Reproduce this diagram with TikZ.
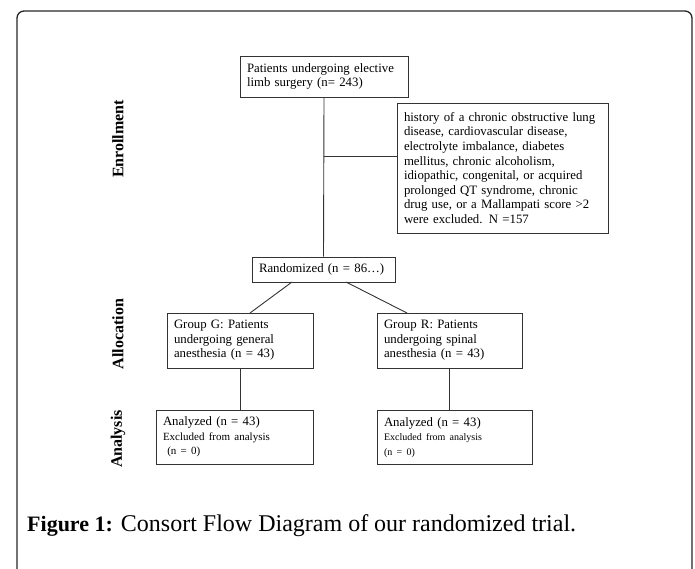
\documentclass[tikz,border=0pt]{standalone}
\usepackage{fontspec}
\setmainfont{Liberation Serif}
\begin{document}
\begin{tikzpicture}[x=1pt,y=-1pt,
  box/.style={draw=black!80, line width=0.9pt, align=left, inner xsep=7pt, inner ysep=2pt,
     font=\fontsize{12.8}{14.6}\selectfont},
  conn/.style={draw=black!80, line width=0.9pt},
  phase/.style={rotate=90, font=\fontsize{16}{18}\selectfont\bfseries}]
\useasboundingbox (0,0) rectangle (695,568);
\clip (0,0) rectangle (695,568);
\draw[line width=1.3pt, black!85, rounded corners=7pt] (17,580) -- (17,11) -- (692,11) -- (692,580);

\node[box, minimum width=168pt, minimum height=41pt, text width=154pt] (top) at (324,76.5)
  {Patients undergoing elective\\limb surgery (n= 243)};
\node[box, minimum width=211pt, minimum height=130pt, text width=197pt] (excl) at (502.5,168)
  {history of a chronic obstructive lung\\disease, cardiovascular disease,\\electrolyte imbalance, diabetes\\mellitus, chronic alcoholism,\\idiopathic, congenital, or acquired\\prolonged QT syndrome, chronic\\drug use, or a Mallampati score >2\\were excluded. N =157};
\node[box, minimum width=143pt, minimum height=25pt, text width=129pt] (rand) at (323.5,269.5)
  {Randomized (n = 86…)};
\node[box, minimum width=146pt, minimum height=55pt, text width=132pt] (gg) at (240,340.5)
  {Group G: Patients\\undergoing general\\anesthesia (n = 43)};
\node[box, minimum width=145pt, minimum height=55pt, text width=131pt] (gr) at (449.5,340.5)
  {Group R: Patients\\undergoing spinal\\anesthesia (n = 43)};
\node[box, minimum width=157pt, minimum height=54pt, text width=143pt] (ag) at (234.5,437)
  {Analyzed (n = 43)\\{\fontsize{11}{13}\selectfont Excluded from analysis}\\{\fontsize{11}{13}\selectfont\ (n = 0)}\\[3pt]};
\node[box, minimum width=155pt, minimum height=54pt, text width=141pt] (ar) at (454.5,437.5)
  {Analyzed (n = 43)\\{\fontsize{10}{12}\selectfont Excluded from analysis}\\{\fontsize{10}{12}\selectfont (n = 0)}\\[4pt]};

\coordinate (j) at (324,156);
\draw[conn] (top.south) -- (rand.north);
\draw[conn] (j) -- (j -| excl.west);
\draw[conn] (292,282) coordinate (r1) -- (250,313) coordinate (g1);
\draw[conn] (346,282) coordinate (r2) -- (407,313) coordinate (g2);
\draw[conn] (gg.south) -- (gg.south |- ag.north);
\draw[conn] (gr.south) -- (gr.south |- ar.north);

\node[phase] (p1) at (118,139) {Enrollment};
\node[phase] (p2) at (118,334) {Allocation};
\node[phase] (p3) at (118,439) {Analysis};

\node[anchor=base west, inner sep=0pt, font=\fontsize{24}{27}\selectfont] (cap) at (27,531)
  {{\fontsize{22}{26}\selectfont\bfseries Figure 1:} Consort Flow Diagram of our randomized trial.};
\end{tikzpicture}
\end{document}
